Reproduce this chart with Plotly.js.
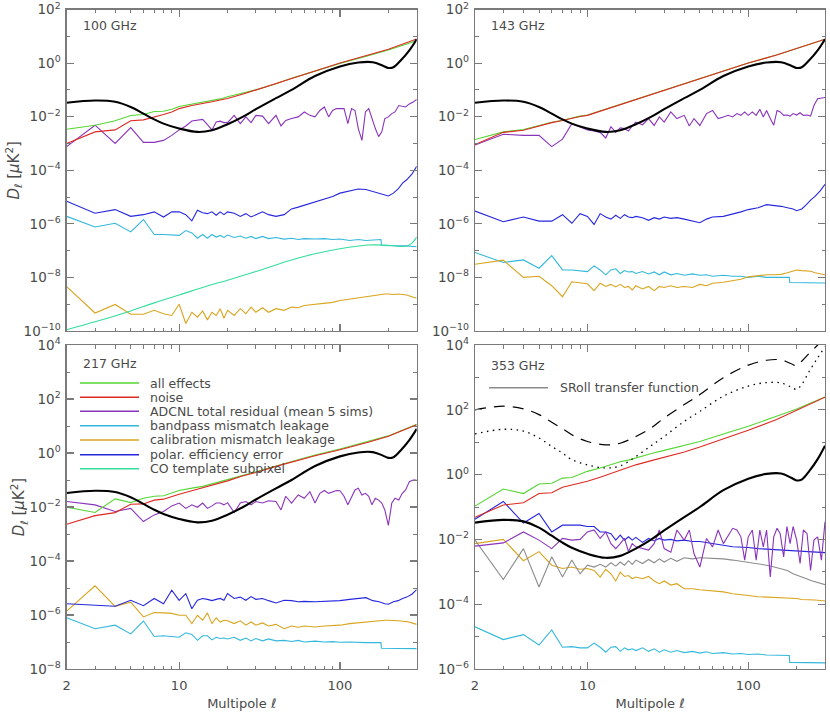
<!DOCTYPE html>
<html>
<head>
<meta charset="utf-8">
<script src="https://cdn.plot.ly/plotly-3.0.1.min.js"></script>
<style>html,body{margin:0;padding:0;background:#fff;}#chart{width:830px;height:712px;}</style>
</head>
<body>
<div id="chart"></div>
<script>
// ---------------- data ----------------
const ellTh = [2,3,4,5,6,7,8,10,13,16,20,25,30,40,50,70,100,130,160,185,200,215,240,270,300];
const modelBB = [3.3e-2,4.0e-2,3.6e-2,2.3e-2,1.3e-2,7.9e-3,5.5e-3,3.6e-3,2.7e-3,3.1e-3,5.2e-3,1.0e-2,1.9e-2,4.9e-2,0.10,0.33,0.75,1.05,1.08,0.80,0.66,0.70,1.3,3.0,7.8];
const dust353Dash = [100,129,107,71,41,26,17,10.5,8.3,9.3,15,28,56,145,295,977,2400,3390,3470,2630,2290,3160,5620,10000,20000];
const dust353Dot = [18,25,22,13.5,7.4,4.6,2.9,2.0,1.6,1.86,3.6,7.9,15,44,89,263,537,692,676,500,427,603,1580,3980,8900];

const ellN = [2,3,4,5,6,7,8,9,10,12,14,16,18,20,25,30,40,50,70,100,150,200,300];
const noise100 = [1.0e-3,2.7e-3,3.2e-3,7.0e-3,7.6e-3,9.5e-3,1.2e-2,1.5e-2,2.0e-2,2.6e-2,3.2e-2,3.6e-2,4.2e-2,4.8e-2,7.0e-2,0.10,0.17,0.27,0.52,1.0,2.0,3.3,7.9];
const all100 = [3.4e-3,4.8e-3,7.0e-3,1.1e-2,1.2e-2,1.55e-2,1.6e-2,1.9e-2,2.4e-2,2.9e-2,3.5e-2,4.0e-2,4.6e-2,5.5e-2,7.5e-2,0.10,0.17,0.27,0.50,0.97,1.9,3.1,6.8];
const noise143 = [9.1e-4,2.6e-3,3.1e-3,4.5e-3,6.0e-3,7.2e-3,8.9e-3,1.02e-2,1.12e-2,1.6e-2,2.1e-2,2.8e-2,3.5e-2,4.4e-2,6.8e-2,9.5e-2,0.17,0.26,0.5,1.0,2.0,3.5,7.8];
const all143 = [1.4e-3,2.7e-3,3.3e-3,4.7e-3,6.2e-3,7.4e-3,9.1e-3,1.05e-2,1.15e-2,1.65e-2,2.15e-2,2.9e-2,3.6e-2,4.5e-2,7.0e-2,9.7e-2,0.175,0.265,0.51,1.0,2.0,3.5,7.8];
const noise217 = [2.3e-3,4.8e-3,6.2e-3,1.26e-2,1.3e-2,1.8e-2,1.95e-2,2.5e-2,2.95e-2,4.0e-2,5.1e-2,6.5e-2,7.8e-2,9.3e-2,0.144,0.19,0.32,0.46,0.79,1.32,2.5,4.2,11.2];
const all217 = [9.8e-3,6.3e-3,2.0e-2,1.45e-2,2.1e-2,2.5e-2,2.6e-2,3.2e-2,4.1e-2,5.0e-2,5.8e-2,7.2e-2,8.7e-2,0.10,0.15,0.20,0.33,0.48,0.85,1.4,2.6,4.3,11.5];
const noise353 = [4.8e-2,0.115,0.135,0.26,0.275,0.41,0.48,0.54,0.62,0.83,1.1,1.38,1.66,2.0,2.7,3.4,5.0,7.1,12.6,23.4,50,95,245];
const all353 = [0.107,0.36,0.26,0.51,0.54,0.78,0.81,1.0,1.26,1.6,2.0,2.5,2.8,3.3,4.5,5.6,7.9,10.5,17.8,31,63,105,250];

const ellA = [2,3,4,5,6,7,8,9,10,11,12,13,14,15,16,17,18,19,20,22,24,26,28,30,33,36,40,43,46,50,55,60,65,70,75,80,85,90,95,100,106,112,118,124,130,137,144,151,158,166,174,182,190,200,210,220,232,244,256,270,285,300];
const adc100 = [7.6e-4,4.8e-3,1.0e-3,3.9e-3,1.1e-3,1.1e-3,1.3e-3,2.0e-3,3.2e-3,4.5e-3,6.9e-3,7.6e-3,7.9e-3,5.0e-3,3.2e-3,6.3e-3,6.8e-3,6.0e-3,6.0e-3,
  1.12e-2,5.5e-3,9.8e-3,6.0e-3,1.12e-2,1.05e-2,5.5e-3,1.12e-2,4.5e-3,7.2e-3,8.5e-3,
  9.8e-3,1.5e-2,1.12e-2,9.8e-3,1.7e-2,2.3e-2,9.8e-3,1.7e-2,2.0e-2,2.0e-2,
  2.0e-2,5.5e-3,2.0e-2,1.7e-2,3.6e-3,1.3e-3,1.5e-2,2.0e-2,8.5e-3,3.6e-3,1.8e-3,2.7e-3,8.5e-3,9.8e-3,
  1.3e-2,1.5e-2,2.6e-2,2.5e-2,2.3e-2,3.0e-2,3.5e-2,4.4e-2];
const adc143 = [8.7e-4,2.2e-3,2.0e-3,2.0e-3,7.6e-4,1.45e-3,5.5e-3,4.2e-3,3.2e-3,2.9e-3,2.6e-3,1.6e-3,4.2e-3,2.6e-3,3.8e-3,3.6e-3,2.9e-3,4.5e-3,6.3e-3,
  5.0e-3,8.5e-3,4.7e-3,9.8e-3,6.3e-3,1.5e-2,8.5e-3,1.12e-2,4.5e-3,8.5e-3,4.7e-3,
  1.3e-2,1.7e-2,8.5e-3,9.8e-3,1.12e-2,9.8e-3,1.3e-2,1.12e-2,1.5e-2,1.12e-2,
  1.5e-2,1.12e-2,1.9e-2,9.8e-3,1.7e-2,8.5e-3,4.8e-3,1.7e-2,1.5e-2,1.12e-2,1.15e-2,1.05e-2,1.3e-2,1.15e-2,
  1.4e-2,1.12e-2,1.15e-2,1.05e-2,2.6e-2,4.7e-2,5.0e-2,5.2e-2];
const adc217 = [1.6e-2,1.2e-2,6.8e-3,8.9e-3,2.9e-3,5.1e-3,6.8e-3,1.1e-2,1.4e-2,8.9e-3,1.2e-2,9.8e-3,1.4e-2,8.9e-3,1.1e-2,1.4e-2,1.4e-2,1.2e-2,1.45e-2,
  6.2e-3,1.4e-2,1.6e-2,1.2e-2,1.6e-2,1.4e-2,1.7e-2,1.6e-2,7.8e-3,2.5e-2,1.4e-2,
  2.8e-2,2.1e-2,3.7e-2,1.4e-2,3.2e-2,4.1e-2,3.2e-2,3.7e-2,4.1e-2,4.0e-2,
  2.5e-2,1.2e-2,2.5e-2,4.3e-2,5.0e-2,2.8e-2,3.2e-2,2.5e-2,1.2e-2,2.1e-2,1.8e-2,1.4e-2,7.8e-3,2.1e-3,
  1.4e-2,2.1e-2,1.8e-2,3.2e-2,4.3e-2,8.7e-2,1.0e-1,1.0e-1];
const adc353 = [6.2e-3,7.8e-3,1.7e-2,9.5e-3,5.2e-3,1.07e-2,9.5e-3,1.0e-2,1.7e-2,1.95e-2,1.07e-2,1.7e-2,7.4e-3,5.2e-3,7.4e-3,1.07e-2,4.2e-3,7.4e-3,5.9e-3,
  5.2e-3,4.7e-3,7.4e-3,1.95e-2,5.2e-3,4.0e-3,1.95e-2,9.5e-3,1.95e-2,3.6e-3,1.4e-3,
  1.07e-2,5.9e-3,1.95e-2,7.4e-3,1.35e-2,2.2e-2,1.95e-2,1.2e-2,2.3e-3,1.2e-2,
  1.95e-2,2.3e-3,1.95e-2,5.9e-3,1.95e-2,6.9e-4,1.2e-2,2.2e-2,1.5e-2,2.9e-3,2.5e-2,7.4e-3,2.5e-2,9.5e-3,
  1.8e-3,1.95e-2,1.5e-2,1.1e-3,9.5e-3,1.2e-2,2.3e-3,3.5e-2];

const ellB = [2,3,4,5,6,7,8,9,10,11,12,13,14,15,16,17,18,19,20,22,24,26,28,30,33,36,40,45,50,55,60,70,80,90,100,115,130,145,160,175,190,200,215,230,245,260,280,300];
const polar100 = [6.9e-6,2.5e-6,3.4e-6,1.9e-6,2.2e-6,2.8e-6,1.8e-6,2.8e-6,2.8e-6,2.2e-6,1.3e-6,3.2e-6,2.6e-6,2.4e-6,2.8e-6,2.1e-6,2.8e-6,2.2e-6,2.8e-6,
  2.5e-6,1.9e-6,2.4e-6,1.8e-6,2.2e-6,2.8e-6,2.2e-6,1.9e-6,2.2e-6,3.6e-6,4.2e-6,4.9e-6,
  6.5e-6,8.7e-6,1.05e-5,1.4e-5,1.7e-5,2.0e-5,1.9e-5,1.6e-5,1.4e-5,1.2e-5,1.1e-5,
  1.4e-5,2.0e-5,3.3e-5,4.4e-5,7.1e-5,1.4e-4];
const polar143 = [3.0e-6,1.2e-6,1.8e-6,1.26e-6,1.26e-6,2.2e-6,1.05e-6,2.4e-6,1.9e-6,9.5e-7,2.4e-6,1.8e-6,1.5e-6,2.1e-6,1.6e-6,2.2e-6,1.8e-6,1.7e-6,1.9e-6,
  1.7e-6,1.35e-6,1.7e-6,1.5e-6,1.8e-6,1.6e-6,1.7e-6,1.5e-6,1.26e-6,1.1e-6,1.5e-6,1.8e-6,
  1.9e-6,2.3e-6,2.8e-6,3.4e-6,4.0e-6,5.2e-6,4.9e-6,4.5e-6,4.0e-6,3.6e-6,3.1e-6,
  3.6e-6,5.2e-6,7.9e-6,1.05e-5,1.7e-5,3.0e-5];
const polar217 = [2.6e-6,2.3e-6,2.1e-6,3.5e-6,2.2e-6,4.1e-6,2.6e-6,8.3e-6,3.5e-6,6.2e-6,1.7e-6,3.5e-6,4.1e-6,3.8e-6,3.4e-6,3.8e-6,4.1e-6,3.5e-6,6.2e-6,
  4.1e-6,4.6e-6,3.5e-6,4.8e-6,3.8e-6,4.1e-6,3.4e-6,2.8e-6,3.5e-6,3.4e-6,3.1e-6,3.2e-6,
  3.1e-6,3.2e-6,3.4e-6,3.4e-6,3.8e-6,4.1e-6,4.4e-6,3.4e-6,3.1e-6,2.6e-6,2.5e-6,
  3.1e-6,3.4e-6,4.1e-6,4.6e-6,5.9e-6,8.7e-6];
const polar353 = [4.2e-2,0.148,3.2e-2,6.3e-2,1.7e-2,2.75e-2,2.75e-2,2.75e-2,2.5e-2,2.5e-2,1.7e-2,1.7e-2,1.5e-2,9.5e-3,1.35e-2,9.5e-3,1.2e-2,9.5e-3,1.15e-2,
  8.1e-3,1.07e-2,9.0e-3,1.07e-2,9.5e-3,1.0e-2,9.0e-3,9.5e-3,8.6e-3,8.6e-3,8.1e-3,7.4e-3,
  6.6e-3,5.9e-3,5.9e-3,5.6e-3,5.2e-3,5.0e-3,4.9e-3,4.7e-3,4.6e-3,4.6e-3,4.6e-3,
  4.3e-3,4.3e-3,4.3e-3,4.2e-3,4.1e-3,3.9e-3];
const calib100 = [4.5e-9,4.7e-10,9.8e-10,4.2e-10,4.2e-10,5.9e-10,4.4e-10,3.8e-10,1.0e-9,1.9e-10,5.0e-10,3.3e-10,5.6e-10,2.6e-10,5.0e-10,3.8e-10,6.8e-10,3.0e-10,5.9e-10,
  3.8e-10,6.8e-10,4.4e-10,7.8e-10,5.0e-10,7.4e-10,5.0e-10,6.8e-10,5.9e-10,7.8e-10,7.4e-10,8.9e-10,
  1.0e-9,1.05e-9,1.17e-9,1.38e-9,1.55e-9,1.8e-9,1.9e-9,2.1e-9,2.2e-9,2.4e-9,2.4e-9,
  2.3e-9,2.4e-9,2.3e-9,2.2e-9,1.9e-9,1.66e-9];
const calib143 = [3.1e-8,4.4e-8,1.0e-8,1.1e-8,4.9e-9,1.9e-9,6.9e-9,6.4e-9,5.8e-9,3.2e-9,6.1e-9,4.6e-9,5.5e-9,4.4e-9,5.5e-9,4.2e-9,4.6e-9,3.4e-9,4.9e-9,
  3.7e-9,4.6e-9,3.2e-9,4.6e-9,4.2e-9,4.9e-9,4.2e-9,4.6e-9,4.2e-9,5.5e-9,4.9e-9,6.1e-9,
  6.6e-9,7.6e-9,8.6e-9,1.05e-8,1.15e-8,1.25e-8,1.25e-8,1.3e-8,1.5e-8,1.8e-8,1.9e-8,
  1.8e-8,1.8e-8,1.7e-8,1.5e-8,1.4e-8,1.25e-8];
const calib217 = [1.4e-6,1.2e-5,2.1e-6,3.0e-6,8.5e-7,1.23e-6,1.2e-6,1.15e-6,9.8e-7,9.8e-7,4.8e-7,9.8e-7,6.4e-7,1.2e-6,4.8e-7,7.9e-7,5.5e-7,6.4e-7,6.1e-7,
  4.8e-7,6.1e-7,4.2e-7,5.5e-7,4.2e-7,5.1e-7,3.9e-7,4.5e-7,3.1e-7,3.9e-7,3.5e-7,3.9e-7,
  3.6e-7,3.9e-7,4.1e-7,4.2e-7,4.8e-7,5.2e-7,5.4e-7,5.7e-7,6.1e-7,6.4e-7,6.4e-7,
  6.4e-7,6.1e-7,5.9e-7,5.7e-7,5.1e-7,4.5e-7];
const calib353 = [7.4e-3,1.0e-2,2.2e-3,4.2e-3,1.6e-3,1.26e-3,1.4e-3,1.2e-3,1.26e-3,1.1e-3,6.9e-4,1.2e-3,8.7e-4,5.2e-4,9.8e-4,7.2e-4,7.7e-4,6.1e-4,6.9e-4,
  6.1e-4,7.2e-4,5.2e-4,4.3e-4,5.2e-4,3.9e-4,4.3e-4,3.0e-4,3.0e-4,2.8e-4,2.7e-4,2.6e-4,
  2.4e-4,2.1e-4,2.0e-4,1.85e-4,1.7e-4,1.65e-4,1.6e-4,1.6e-4,1.5e-4,1.5e-4,1.5e-4,
  1.4e-4,1.4e-4,1.4e-4,1.35e-4,1.3e-4,1.26e-4];
const sroll353 = [9.5e-3,5.8e-4,5.2e-3,3.4e-4,2.9e-3,6.9e-4,2.3e-3,8.7e-4,1.6e-3,1.4e-3,1.7e-3,1.4e-3,1.9e-3,1.5e-3,2.0e-3,1.6e-3,2.2e-3,1.7e-3,2.3e-3,
  1.8e-3,2.4e-3,1.9e-3,2.5e-3,2.0e-3,2.6e-3,2.1e-3,2.7e-3,2.5e-3,2.7e-3,2.65e-3,2.6e-3,
  2.5e-3,2.3e-3,2.1e-3,2.0e-3,1.8e-3,1.6e-3,1.4e-3,1.2e-3,1.1e-3,8.7e-4,7.8e-4,
  6.9e-4,6.1e-4,5.4e-4,4.9e-4,4.5e-4,4.0e-4];

const ellC = [2,3,4,5,6,7,8,9,10,11,12,13,14,15,16,17,18,19,20,22,24,26,28,30,33,36,40,45,50,55,60,70,80,90,100,115,130,145,160,180,181,200,230,260,300];
const band100 = [1.9e-6,7.6e-7,1.05e-6,5.0e-7,1.45e-6,4.0e-7,4.0e-7,3.8e-7,3.7e-7,5.6e-7,4.6e-7,2.9e-7,4.0e-7,2.9e-7,4.0e-7,3.2e-7,3.7e-7,3.1e-7,3.8e-7,
  3.1e-7,3.5e-7,2.9e-7,3.4e-7,2.8e-7,3.4e-7,2.8e-7,3.1e-7,2.7e-7,2.9e-7,2.6e-7,2.8e-7,
  2.7e-7,2.8e-7,2.6e-7,2.7e-7,2.4e-7,2.6e-7,2.4e-7,2.5e-7,2.6e-7,1.55e-7,
  1.55e-7,1.5e-7,1.5e-7,1.4e-7];
const band143 = [8.5e-8,3.6e-8,4.5e-8,2.2e-8,6.5e-8,1.9e-8,1.9e-8,1.8e-8,1.65e-8,2.7e-8,1.9e-8,1.25e-8,1.9e-8,2.1e-8,1.4e-8,1.8e-8,1.6e-8,1.65e-8,1.4e-8,
  1.65e-8,1.35e-8,1.6e-8,1.25e-8,1.6e-8,1.25e-8,1.4e-8,1.2e-8,1.35e-8,1.2e-8,1.25e-8,1.1e-8,
  1.2e-8,1.1e-8,1.1e-8,1.0e-8,1.1e-8,1.0e-8,1.0e-8,1.0e-8,1.0e-8,6.5e-9,
  6.5e-9,6.4e-9,6.4e-9,6.2e-9];
const band217 = [7.9e-7,3.1e-7,4.2e-7,2.0e-7,6.0e-7,1.6e-7,1.7e-7,1.6e-7,1.5e-7,2.2e-7,1.9e-7,1.15e-7,1.7e-7,1.7e-7,1.2e-7,1.5e-7,1.35e-7,1.4e-7,1.3e-7,
  1.5e-7,1.15e-7,1.4e-7,1.1e-7,1.35e-7,1.1e-7,1.3e-7,1.1e-7,1.15e-7,1.05e-7,1.15e-7,1.0e-7,
  1.08e-7,1.0e-7,1.03e-7,9.8e-8,1.0e-7,9.5e-8,9.5e-8,9.5e-8,9.5e-8,5.9e-8,
  5.9e-8,5.8e-8,5.8e-8,5.7e-8];
const band353 = [2.0e-5,8.1e-6,1.15e-5,5.5e-6,1.6e-5,4.7e-6,4.9e-6,4.5e-6,4.5e-6,6.3e-6,4.7e-6,3.3e-6,4.7e-6,4.9e-6,3.5e-6,4.5e-6,3.9e-6,4.2e-6,3.7e-6,
  4.5e-6,3.5e-6,4.2e-6,3.3e-6,3.9e-6,3.3e-6,3.7e-6,3.2e-6,3.5e-6,3.1e-6,3.4e-6,3.0e-6,
  3.2e-6,2.9e-6,3.0e-6,2.8e-6,2.9e-6,2.7e-6,2.7e-6,2.6e-6,2.6e-6,1.6e-6,
  1.6e-6,1.6e-6,1.6e-6,1.55e-6];

const ellCO = [2,3,5,7,10,15,20,30,50,70,100,150,200,255,280,300];
const co100 = [1.12e-10,2.2e-10,5.6e-10,1.12e-9,2.2e-9,4.8e-9,7.9e-9,1.66e-8,4.5e-8,7.6e-8,1.17e-7,1.62e-7,1.58e-7,1.45e-7,1.9e-7,3.2e-7];

const panelLabels = ['100 GHz','143 GHz','217 GHz','353 GHz'];
const legendLabels = ['all effects','noise','ADCNL total residual (mean 5 sims)','bandpass mismatch leakage','calibration mismatch leakage','polar. efficiency error','CO template subpixel'];
const srollLabel = 'SRoll transfer function';
const xTickVals = [2,10,100];
const xTickText = ['2','10','100'];
const xMinorVals = [3,4,5,6,7,8,9,20,30,40,50,60,70,80,90,200,300];

// ---------------- styles ----------------
const C = {green:'#55d633', red:'#dd2a22', purple:'#8a33bb', cyan:'#33b8dc', gold:'#d9a51f', blue:'#2626dd', teal:'#33dd9c', gray:'#8c8c8c', black:'#000000'};
const legendColors = [C.green,C.red,C.purple,C.cyan,C.gold,C.blue,C.teal];
const FONT = 'DejaVu Sans';
const TXT = '#4a4a4a';
const AX = '#7a7a7a';

function tr(x, y, color, k, opts) {
  const o = opts || {};
  return {x: x, y: y, type: 'scatter', mode: 'lines', xaxis: 'x' + (k === 1 ? '' : k), yaxis: 'y' + (k === 1 ? '' : k),
    line: {color: color, width: o.width || 1.1, dash: o.dash || 'solid', shape: o.shape || 'linear'},
    hoverinfo: 'skip', showlegend: false};
}

const traces = [];
// 100 GHz
traces.push(tr(ellC, band100, C.cyan, 1));
traces.push(tr(ellB, calib100, C.gold, 1));
traces.push(tr(ellCO, co100, C.teal, 1, {shape: 'spline'}));
traces.push(tr(ellB, polar100, C.blue, 1));
traces.push(tr(ellA, adc100, C.purple, 1));
traces.push(tr(ellN, all100, C.green, 1));
traces.push(tr(ellN, noise100, C.red, 1));
traces.push(tr(ellTh, modelBB, C.black, 1, {width: 2.1, shape: 'spline'}));
// 143 GHz
traces.push(tr(ellC, band143, C.cyan, 2));
traces.push(tr(ellB, calib143, C.gold, 2));
traces.push(tr(ellB, polar143, C.blue, 2));
traces.push(tr(ellA, adc143, C.purple, 2));
traces.push(tr(ellN, all143, C.green, 2));
traces.push(tr(ellN, noise143, C.red, 2));
traces.push(tr(ellTh, modelBB, C.black, 2, {width: 2.1, shape: 'spline'}));
// 217 GHz
traces.push(tr(ellC, band217, C.cyan, 3));
traces.push(tr(ellB, calib217, C.gold, 3));
traces.push(tr(ellB, polar217, C.blue, 3));
traces.push(tr(ellA, adc217, C.purple, 3));
traces.push(tr(ellN, all217, C.green, 3));
traces.push(tr(ellN, noise217, C.red, 3));
traces.push(tr(ellTh, modelBB, C.black, 3, {width: 2.1, shape: 'spline'}));
// 353 GHz
traces.push(tr(ellC, band353, C.cyan, 4));
traces.push(tr(ellB, calib353, C.gold, 4));
traces.push(tr(ellB, sroll353, C.gray, 4));
traces.push(tr(ellB, polar353, C.blue, 4));
traces.push(tr(ellA, adc353, C.purple, 4));
traces.push(tr(ellN, all353, C.green, 4));
traces.push(tr(ellN, noise353, C.red, 4));
traces.push(tr(ellTh, modelBB, C.black, 4, {width: 2.1, shape: 'spline'}));
traces.push(tr(ellTh, dust353Dash, C.black, 4, {width: 1.2, dash: '11px,8px', shape: 'spline'}));
traces.push(tr(ellTh, dust353Dot, C.black, 4, {width: 1.3, dash: '1.5px,4.5px', shape: 'spline'}));

// ---------------- axes ----------------
const W = 830, H = 712;
const colL = [66.7 / W, 416.7 / W], colR = [475 / W, 825 / W];
const rowT = [1 - 331 / H, 1 - 9.5 / H], rowB = [1 - 669 / H, 1 - 345 / H];

function supLabel(e) { return '10<sup>' + (e < 0 ? '\u2212' + (-e) : e) + '</sup>'; }

function xAx(domain, anchor, labels) {
  const a = {type: 'log', domain: domain, anchor: anchor, range: [Math.log10(2), Math.log10(300)],
    showline: true, linecolor: AX, linewidth: 1.3, mirror: 'allticks', ticks: 'inside', ticklen: 7, tickwidth: 1.1, tickcolor: AX,
    tickmode: 'array', tickvals: xTickVals, ticktext: xTickText, showticklabels: labels, ticklabelstandoff: 4,
    minor: {tickmode: 'array', tickvals: xMinorVals, ticklen: 3.5, ticks: 'inside', tickcolor: AX, tickwidth: 1, showgrid: false},
    showgrid: false, zeroline: false, fixedrange: true,
    tickfont: {family: FONT, size: 13, color: TXT}};
  if (labels) a.title = {text: 'Multipole <i>\u2113</i>', font: {family: FONT, size: 13, color: TXT}, standoff: 7};
  return a;
}
function yAx(domain, anchor, lo, hi, withTitle) {
  const major = [], minor = [], text = [];
  for (let e = lo; e <= hi; e++) {
    if ((e - lo) % 2 === 0) { major.push(Math.pow(10, e)); text.push(supLabel(e)); }
    else minor.push(Math.pow(10, e));
  }
  const a = {type: 'log', domain: domain, anchor: anchor, range: [lo, hi],
    showline: true, linecolor: AX, linewidth: 1.3, mirror: 'allticks', ticks: 'inside', ticklen: 7, tickwidth: 1.1, tickcolor: AX,
    tickmode: 'array', tickvals: major, ticktext: text, ticklabeloverflow: 'allow', ticklabelstandoff: 2,
    minor: {tickmode: 'array', tickvals: minor, ticklen: 3.5, ticks: 'inside', tickcolor: AX, tickwidth: 1, showgrid: false},
    showgrid: false, zeroline: false, fixedrange: true,
    tickfont: {family: FONT, size: 13.5, color: TXT}};
  if (withTitle) a.title = {text: '<i>D</i><sub><i>\u2113</i></sub> [<i>\u03bc</i>K<sup>2</sup>]', font: {family: FONT, size: 15, color: TXT}, standoff: 0};
  return a;
}

// ---------------- annotations / legend ----------------
const annotations = [];
const shapes = [];
const labelPos = [[1, 0.041, 0.95], [2, 0.040, 0.95], [3, 0.041, 0.944], [4, 0.040, 0.938]];
labelPos.forEach(function (p, i) {
  const k = p[0] === 1 ? '' : p[0];
  annotations.push({xref: 'x' + k + ' domain', yref: 'y' + k + ' domain', x: p[1], y: p[2], xanchor: 'left', yanchor: 'middle',
    text: panelLabels[i], showarrow: false, font: {family: FONT, size: 12.5, color: TXT}});
});
const legY = [0.8827, 0.8386, 0.7954, 0.7509, 0.7068, 0.6614, 0.6182];
legendLabels.forEach(function (lab, i) {
  shapes.push({type: 'line', xref: 'x3 domain', yref: 'y3 domain', x0: 0.038, x1: 0.2066, y0: legY[i], y1: legY[i],
    line: {color: legendColors[i], width: 1.6}});
  annotations.push({xref: 'x3 domain', yref: 'y3 domain', x: 0.232, y: legY[i], xanchor: 'left', yanchor: 'middle',
    text: lab, showarrow: false, font: {family: FONT, size: 12.5, color: TXT}});
});
shapes.push({type: 'line', xref: 'x4 domain', yref: 'y4 domain', x0: 0.04, x1: 0.2086, y0: 0.8682, y1: 0.8682,
  line: {color: C.gray, width: 1.6}});
annotations.push({xref: 'x4 domain', yref: 'y4 domain', x: 0.236, y: 0.8682, xanchor: 'left', yanchor: 'middle',
  text: srollLabel, showarrow: false, font: {family: FONT, size: 12.5, color: TXT}});

const layout = {
  width: W, height: H, margin: {l: 0, r: 0, t: 0, b: 0}, paper_bgcolor: '#fff', plot_bgcolor: '#fff',
  showlegend: false, font: {family: FONT, color: TXT},
  xaxis: xAx(colL, 'y', false), yaxis: yAx(rowT, 'x', -10, 2, true),
  xaxis2: xAx(colR, 'y2', false), yaxis2: yAx(rowT, 'x2', -10, 2, false),
  xaxis3: xAx(colL, 'y3', true), yaxis3: yAx(rowB, 'x3', -8, 4, true),
  xaxis4: xAx(colR, 'y4', true), yaxis4: yAx(rowB, 'x4', -6, 4, false),
  annotations: annotations, shapes: shapes
};

Plotly.newPlot('chart', traces, layout, {staticPlot: true, displayModeBar: false});
</script>
</body>
</html>
